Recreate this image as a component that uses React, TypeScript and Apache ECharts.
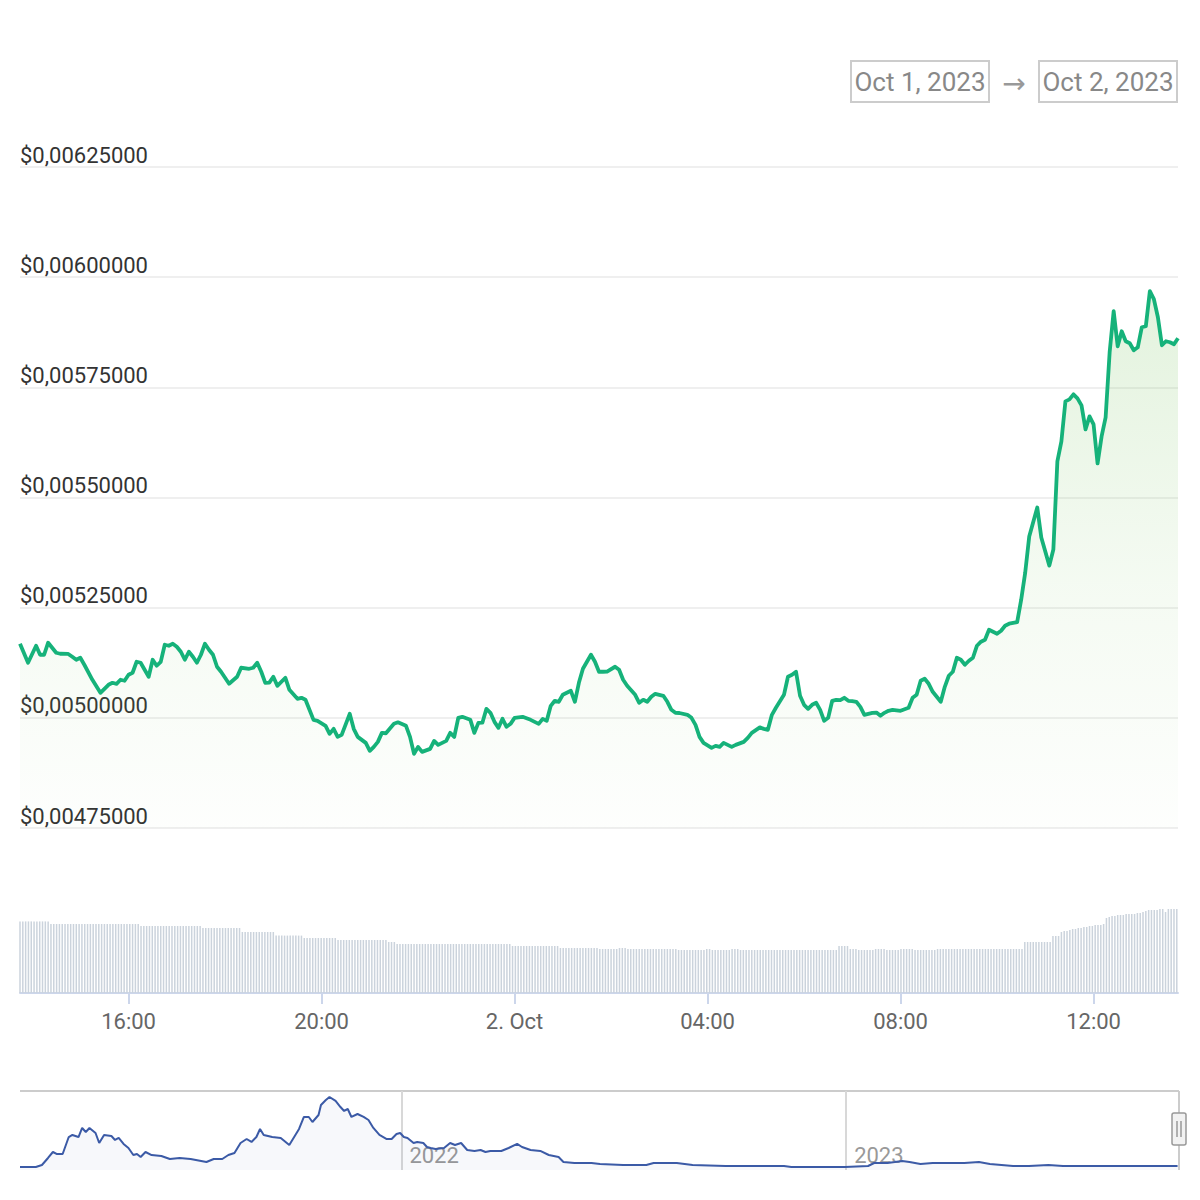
import React, { useEffect, useRef } from 'react';
import * as echarts from 'echarts';

// ---------- DATA ----------
const priceTimes = [
  '13:45','13:55','14:05','14:10','14:15','14:20','14:30','14:35','14:45','14:50','14:55','15:00','15:05','15:15','15:25','15:35','15:40','15:45','15:50','15:55',
  '16:00','16:05','16:10','16:15','16:20','16:25','16:30','16:35','16:40','16:45','16:50','16:55','17:00','17:05','17:10','17:15','17:20','17:25','17:30','17:35',
  '17:40','17:45','17:50','17:55','18:00','18:05','18:15','18:20','18:30','18:35','18:40','18:45','18:50','18:55','19:00','19:05','19:15','19:20','19:30','19:35',
  '19:40','19:50','19:55','20:05','20:10','20:15','20:20','20:25','20:35','20:40','20:45','20:55','21:00','21:05','21:10','21:15','21:20','21:30','21:35','21:45',
  '21:50','21:55','22:00','22:05','22:15','22:20','22:25','22:35','22:40','22:45','22:50','22:55','23:05','23:10','23:15','23:20','23:25','23:30','23:35','23:40',
  '23:45','23:50','23:55','00:00','00:10','00:20','00:25','00:30','00:35','00:40','00:45','00:50','00:55','01:00','01:10','01:15','01:20','01:25','01:35','01:40',
  '01:45','01:50','01:55','02:05','02:10','02:15','02:20','02:30','02:35','02:40','02:45','02:50','02:55','03:05','03:10','03:15','03:20','03:25','03:35','03:40',
  '03:45','03:50','03:55','04:05','04:10','04:15','04:20','04:25','04:30','04:35','04:45','04:50','04:55','05:05','05:10','05:15','05:20','05:25','05:35','05:40',
  '05:45','05:50','05:55','06:00','06:05','06:10','06:15','06:20','06:25','06:30','06:35','06:40','06:45','06:50','06:55','07:00','07:05','07:10','07:15','07:20',
  '07:25','07:30','07:35','07:40','07:45','07:50','07:55','08:00','08:10','08:15','08:20','08:25','08:30','08:35','08:40','08:50','08:55','09:00','09:05','09:10',
  '09:15','09:20','09:25','09:30','09:35','09:40','09:45','09:50','10:00','10:05','10:10','10:15','10:25','10:30','10:35','10:40','10:50','10:55','11:05','11:10',
  '11:15','11:20','11:25','11:30','11:35','11:40','11:45','11:50','11:55','12:00','12:05','12:10','12:15','12:20','12:25','12:30','12:35','12:40','12:45','12:50',
  '12:55','13:00','13:05','13:10','13:15','13:20','13:25','13:30','13:35','13:40','13:45',
];

const priceValues = [
  0.00516818,0.005125,0.00516364,0.00514318,0.00514318,0.00517045,0.00514773,0.00514545,0.005145,0.00513864,0.00513182,0.00513636,0.00512045,0.00508636,0.00505682,0.005075,0.00507955,0.00507727,0.00508636,0.00508409,
  0.00509773,0.00510227,0.00512727,0.005125,0.00510909,0.00509318,0.00513182,0.00511818,0.005127,0.00516591,0.00516364,0.00516818,0.00516136,0.00515,0.00513182,0.00515,0.00513864,0.005125,0.00514318,0.00516818,
  0.00515455,0.00514318,0.00511591,0.00510455,0.00509091,0.00507727,0.00509318,0.00511364,0.00511136,0.00511364,0.005125,0.00510455,0.00507955,0.00508,0.00509318,0.00507273,0.00509091,0.00506364,0.00504318,0.00504545,
  0.00504091,0.00499545,0.00499318,0.00498182,0.00496364,0.004975,0.00495682,0.00496136,0.00500909,0.004975,0.00495682,0.00494318,0.004925,0.00493409,0.00494545,0.00496591,0.004965,0.00498636,0.00498977,0.00498182,
  0.00495682,0.00491818,0.00493409,0.00492273,0.00492955,0.00494773,0.00493864,0.00494773,0.00496591,0.00495682,0.005,0.00500227,0.00499545,0.00496591,0.00498864,0.004989,0.00502045,0.00501136,0.00499091,0.00497727,
  0.00499773,0.00497955,0.00498636,0.005,0.00500227,0.00499545,0.00499091,0.00498636,0.00499773,0.00499318,0.00502727,0.00503864,0.00503636,0.00505227,0.00506136,0.00503636,0.00507955,0.00511136,0.00514318,0.00512727,
  0.00510455,0.00510455,0.005105,0.00511591,0.00510909,0.00508636,0.00507273,0.00505227,0.00503409,0.00504091,0.00503636,0.00504773,0.00505455,0.00505,0.00503636,0.00501818,0.00501136,0.005011,0.00500682,0.005,
  0.00498409,0.00495682,0.00494318,0.00493182,0.00493636,0.00493409,0.00494318,0.00493864,0.00493409,0.00493864,0.00494545,0.00495455,0.00496591,0.00497841,0.004975,0.00497273,0.00500682,0.00502273,0.00505227,0.00509318,
  0.00509773,0.00510455,0.00505,0.00502955,0.00502045,0.00502955,0.00503409,0.00501818,0.00499318,0.005,0.00503864,0.00504091,0.00504,0.00504545,0.00503864,0.005038,0.00503636,0.005025,0.00500682,0.00500909,
  0.00501136,0.005012,0.00500455,0.00501136,0.00501591,0.00501818,0.005017,0.00501591,0.00502273,0.00504545,0.00505227,0.00508409,0.00508864,0.00507727,0.00505909,0.00503636,0.00507045,0.00509545,0.00510455,0.00513636,
  0.00513182,0.00512045,0.00512955,0.00513636,0.00516364,0.00517273,0.00517727,0.0052,0.00519091,0.00519773,0.00520909,0.00521364,0.00521705,0.00526818,0.00532955,0.00541136,0.00547727,0.00540909,0.00534545,0.00538182,
  0.00558182,0.00562727,0.00571818,0.00572273,0.00573409,0.005725,0.00570909,0.00565455,0.00568409,0.00566591,0.00557727,0.00563864,0.00568182,0.00582955,0.00592273,0.00584318,0.00587727,0.00585455,0.00585,0.00583409,
  0.00584091,0.00588636,0.00588864,0.00596818,0.00595,0.00590909,0.00584545,0.00585455,0.00585227,0.00584773,0.00586136,
];

// volume bars (millions USD), one bar every 3.5 minutes from 13:45
const volumeStart = '13:45';
const volumeStepMinutes = 3.5;
const volumeValues = [
  3.58,3.58,3.58,3.58,3.58,3.58,3.58,3.58,3.58,3.58,3.58,
  3.45,3.45,3.45,3.45,3.45,3.45,3.45,3.45,3.45,3.45,3.45,3.45,3.45,3.45,3.45,3.45,3.45,3.45,3.45,3.45,3.45,3.45,3.45,3.45,3.45,3.45,3.45,3.45,3.45,3.45,3.45,3.45,
  3.35,3.35,3.35,3.35,3.35,3.35,3.35,3.35,3.35,3.35,3.35,3.35,3.35,3.35,3.35,3.35,3.35,3.35,3.35,3.35,3.35,3.35,
  3.25,3.25,3.25,3.25,3.25,3.25,3.25,3.25,3.25,3.25,3.25,3.25,3.25,3.25,
  3.05,3.05,3.05,3.05,3.05,3.05,3.05,3.05,3.05,3.05,3.05,3.05,
  2.87,2.87,2.87,2.87,2.87,2.87,2.87,2.87,2.87,2.87,
  2.75,2.75,2.75,2.75,2.75,2.75,2.75,2.75,2.75,2.75,2.75,2.75,
  2.65,2.65,2.65,2.65,2.65,2.65,2.65,2.65,2.65,2.65,2.65,2.65,2.65,2.65,2.65,2.65,2.65,2.65,
  2.55,2.55,2.55,
  2.45,2.45,2.45,2.45,2.45,2.45,2.45,2.45,2.45,2.45,2.45,2.45,2.45,2.45,2.45,2.45,2.45,2.45,2.45,2.45,2.45,2.45,2.45,2.45,2.45,2.45,2.45,2.45,2.45,2.45,2.45,2.45,2.45,2.45,2.45,2.45,2.45,2.45,2.45,2.45,2.45,
  2.35,2.35,2.35,2.35,2.35,2.35,2.35,2.35,2.35,2.35,2.35,2.35,2.35,2.35,2.35,2.35,2.35,
  2.25,2.25,2.25,2.25,2.25,2.25,2.25,2.25,2.25,2.25,2.25,2.25,2.25,2.25,
  2.2,2.2,2.2,2.2,2.2,2.2,2.2,2.25,2.25,2.25,2.2,2.2,2.2,2.2,2.2,2.2,2.2,2.2,2.2,2.2,2.2,2.2,2.2,2.2,2.2,2.2,2.2,2.2,
  2.15,2.15,2.15,2.15,2.15,2.15,2.15,2.15,2.15,2.15,2.2,2.2,2.15,2.15,2.15,2.15,2.15,2.15,2.15,2.2,2.2,2.2,2.15,2.15,2.15,2.15,2.15,2.15,2.15,2.15,
  2.15,2.15,2.15,2.15,2.15,2.15,2.15,2.15,2.15,2.15,2.15,2.15,2.15,2.15,2.15,2.15,2.15,2.15,2.15,2.15,2.15,2.15,2.15,2.15,2.15,2.15,2.15,
  2.35,2.35,2.35,2.35,
  2.2,2.2,2.2,2.15,2.15,2.15,2.15,2.15,2.15,2.2,2.2,2.2,2.2,2.15,2.15,2.15,2.15,2.15,2.2,2.2,2.2,2.2,2.2,2.15,2.15,2.15,2.15,2.15,2.15,2.15,2.15,
  2.2,2.2,2.2,2.2,2.2,2.2,2.2,2.2,2.2,2.2,2.2,2.2,2.2,2.2,2.2,2.2,2.2,2.2,2.2,2.2,2.2,2.2,2.2,2.2,2.2,2.2,2.2,2.2,2.2,2.2,2.2,
  2.55,2.55,2.55,2.55,2.55,2.55,2.55,2.55,2.55,2.55,
  2.85,2.85,2.85,
  3.05,3.1,3.1,3.15,3.2,3.2,3.25,3.25,3.3,3.3,3.35,3.35,3.4,3.4,3.4,3.45,
  3.75,3.8,3.85,3.85,3.9,3.9,3.9,3.95,3.95,3.95,3.95,4.0,4.0,4.05,
  4.1,4.15,4.15,4.15,4.15,4.2,4.2,4.05,4.2,4.2,4.2,4.2,
];

// navigator (long-term history)
const navDates = [
  '2021-02-22','2021-03-07','2021-03-12','2021-03-17','2021-03-21','2021-03-24','2021-03-29','2021-04-03','2021-04-06','2021-04-11',
  '2021-04-14','2021-04-17','2021-04-20','2021-04-25','2021-04-28','2021-05-02','2021-05-08','2021-05-11','2021-05-14','2021-05-18',
  '2021-05-22','2021-05-26','2021-05-29','2021-06-01','2021-06-05','2021-06-10','2021-06-18','2021-06-25','2021-07-03','2021-07-12',
  '2021-07-25','2021-07-31','2021-08-07','2021-08-12','2021-08-17','2021-08-22','2021-08-27','2021-08-31','2021-09-04','2021-09-07',
  '2021-09-10','2021-09-17','2021-09-24','2021-10-01','2021-10-06','2021-10-09','2021-10-13','2021-10-17','2021-10-20','2021-10-25',
  '2021-10-27','2021-10-31','2021-11-03','2021-11-08','2021-11-12','2021-11-15','2021-11-18','2021-11-21','2021-11-26','2021-12-01',
  '2021-12-05','2021-12-09','2021-12-14','2021-12-20','2021-12-24','2021-12-28','2021-12-31','2022-01-03','2022-01-06','2022-01-11',
  '2022-01-14','2022-01-19','2022-01-22','2022-01-25','2022-01-29','2022-02-05','2022-02-10','2022-02-14','2022-02-19','2022-02-24',
  '2022-03-02','2022-03-07','2022-03-11','2022-03-15','2022-03-24','2022-03-30','2022-04-06','2022-04-10','2022-04-17','2022-04-25',
  '2022-05-02','2022-05-10','2022-05-14','2022-05-23','2022-05-29','2022-06-06','2022-06-13','2022-07-02','2022-07-21','2022-07-27',
  '2022-08-10','2022-08-15','2022-08-28','2022-09-24','2022-11-11','2022-11-17','2022-12-31','2023-01-19','2023-01-24','2023-02-04',
  '2023-02-10','2023-02-16','2023-02-22','2023-03-03','2023-03-13','2023-04-08','2023-04-20','2023-04-29','2023-05-18','2023-05-31',
  '2023-06-16','2023-06-28','2023-07-27','2023-08-27','2023-09-30',
];
const navValues = [
  0.0044,0.0044,0.0073,0.0175,0.0262,0.0233,0.0233,0.048,0.051,0.048,
  0.0612,0.0553,0.0612,0.0539,0.0393,0.051,0.0495,0.0437,0.0466,0.0379,
  0.032,0.0218,0.0233,0.0189,0.0262,0.0218,0.0204,0.016,0.0175,0.016,
  0.0116,0.016,0.016,0.0218,0.0248,0.0393,0.0451,0.0408,0.048,0.0597,
  0.051,0.048,0.0466,0.0364,0.051,0.0597,0.0772,0.0772,0.0699,0.0801,
  0.0946,0.1019,0.1063,0.1005,0.0917,0.0859,0.0888,0.0772,0.0815,0.0772,
  0.0728,0.0612,0.051,0.0451,0.0451,0.0524,0.0539,0.048,0.0466,0.0393,
  0.0408,0.0393,0.0335,0.032,0.0306,0.032,0.0393,0.0364,0.0393,0.0291,
  0.0277,0.0291,0.0262,0.0277,0.0277,0.032,0.0379,0.0335,0.0291,0.0277,
  0.0218,0.0189,0.0116,0.0102,0.0102,0.0102,0.0087,0.0073,0.0073,0.0102,
  0.0102,0.0102,0.0073,0.0058,0.0058,0.0044,0.0044,0.0058,0.0102,0.0102,
  0.0116,0.0131,0.0116,0.0087,0.0102,0.0102,0.0116,0.0087,0.0058,0.0058,
  0.0073,0.0058,0.0058,0.0058,0.0058,
];

const timeTickMinutes = [960, 1200, 1440, 1680, 1920, 2160];
const timeTickLabels = ['16:00', '20:00', '2. Oct', '04:00', '08:00', '12:00'];
const navStart = '2021-02-22';
const navEnd = '2023-10-02';
const navYearTicks = ['2022-01-01', '2023-01-01'];
const navYearLabels = ['2022', '2023'];
const rangeFrom = 'Oct 1, 2023';
const rangeTo = 'Oct 2, 2023';
const priceMin = 0.00475;
const priceMax = 0.00625;
const priceStep = 0.00025;

// ---------- helpers ----------
function hm(t: string) {
  const [h, m] = t.split(':').map(Number);
  return h * 60 + m;
}
function toMinutes(times: string[]) {
  let offset = 0;
  let prev = -Infinity;
  return times.map((t) => {
    let v = hm(t) + offset;
    if (v < prev) {
      offset += 1440;
      v += 1440;
    }
    prev = v;
    return v;
  });
}
function dayIndex(d: string) {
  const [y, m, dd] = d.split('-').map(Number);
  const [y0, m0, d0] = navStart.split('-').map(Number);
  return Math.round((Date.UTC(y, m - 1, dd) - Date.UTC(y0, m0 - 1, d0)) / 86400000);
}

export default function App() {
  const ref = useRef<HTMLDivElement>(null);

  useEffect(() => {
    if (!ref.current) return;
    const chart = echarts.init(ref.current, undefined, { renderer: 'svg' });

    const priceX = toMinutes(priceTimes);
    const priceData = priceX.map((x, i) => [x, priceValues[i]]);
    const xMin = priceX[0];
    const xMax = priceX[priceX.length - 1];
    const v0 = hm(volumeStart);
    const volData = volumeValues.map((v, i) => [v0 + i * volumeStepMinutes, v]);
    const navData = navDates.map((d, i) => [dayIndex(d), navValues[i]]);
    const navMax = dayIndex(navEnd);
    const navTickDays = navYearTicks.map(dayIndex);

    const font = 'Roboto';
    const option: any = {
      animation: false,
      backgroundColor: '#ffffff',
      textStyle: { fontFamily: font },
      grid: [
        { left: 20, right: 22, top: 167, height: 661 },
        { left: 20, right: 22, top: 893, height: 100 },
        { left: 20, right: 20, top: 1091, height: 79 },
      ],
      xAxis: [
        { gridIndex: 0, type: 'value', min: xMin, max: xMax, show: false },
        {
          gridIndex: 1,
          type: 'value',
          min: xMin,
          max: xMax,
          axisLine: { show: true, lineStyle: { color: '#ccd6eb', width: 2 } },
          axisTick: { show: true, customValues: timeTickMinutes, length: 11, lineStyle: { color: '#ccd6eb', width: 2 } },
          axisLabel: {
            customValues: timeTickMinutes,
            formatter: (v: number) => timeTickLabels[timeTickMinutes.indexOf(v)] ?? '',
            color: '#666666',
            fontSize: 22,
            fontFamily: font,
            margin: 17,
          },
          splitLine: { show: false },
        },
        {
          gridIndex: 2,
          type: 'value',
          min: 0,
          max: navMax,
          axisLine: { show: false },
          axisTick: { show: false, customValues: navTickDays },
          axisLabel: {
            customValues: navTickDays,
            inside: true,
            formatter: (v: number) => navYearLabels[navTickDays.indexOf(v)] ?? '',
            color: '#999999',
            fontSize: 22,
            fontFamily: font,
            align: 'left',
            padding: [0, 0, 0, 8],
            margin: 4,
          },
          splitLine: { show: true, lineStyle: { color: '#d8d8d8', width: 2 } },
        },
      ],
      yAxis: [
        {
          gridIndex: 0,
          type: 'value',
          min: priceMin,
          max: priceMax,
          interval: priceStep,
          axisLine: { show: false },
          axisTick: { show: false },
          axisLabel: {
            inside: true,
            margin: 0,
            align: 'left',
            verticalAlign: 'bottom',
            padding: [0, 0, 1, 0],
            formatter: (v: number) => '$' + v.toFixed(8).replace('.', ','),
            color: '#333333',
            fontSize: 22,
            fontFamily: font,
          },
          splitLine: { show: true, lineStyle: { color: '#efefef', width: 2 } },
        },
        { gridIndex: 1, type: 'value', min: 0, max: 5, show: false },
        { gridIndex: 2, type: 'value', min: 0, max: 0.115, show: false },
      ],
      series: [
        {
          type: 'bar',
          xAxisIndex: 1,
          yAxisIndex: 1,
          data: volData,
          barWidth: 1.5,
          itemStyle: { color: '#cbd3dc' },
          silent: true,
        },
        {
          type: 'line',
          xAxisIndex: 0,
          yAxisIndex: 0,
          data: priceData,
          symbol: 'none',
          showSymbol: false,
          lineStyle: { color: '#16b27a', width: 3.8, join: 'round' },
          areaStyle: {
            origin: 'start',
            color: new echarts.graphic.LinearGradient(0, 0, 0, 1, [
              { offset: 0, color: 'rgba(130,200,105,0.32)' },
              { offset: 0.55, color: 'rgba(130,200,105,0.12)' },
              { offset: 1, color: 'rgba(130,200,105,0.02)' },
            ]),
          },
          z: 3,
        },
        {
          type: 'line',
          xAxisIndex: 2,
          yAxisIndex: 2,
          data: navData,
          symbol: 'none',
          showSymbol: false,
          lineStyle: { color: '#3b5aa6', width: 2 },
          areaStyle: { origin: 'start', color: 'rgba(67,99,168,0.06)' },
        },
      ],
      graphic: [
        { type: 'rect', shape: { x: 851, y: 61, width: 138, height: 41 }, style: { fill: '#fff', stroke: '#cccccc', lineWidth: 2 } },
        { type: 'text', x: 920, y: 82, style: { text: rangeFrom, fill: '#888888', font: `26px ${font}`, align: 'center', verticalAlign: 'middle' } },
        { type: 'text', x: 1014, y: 83, style: { text: '→', fill: '#999999', font: `28px "DejaVu Sans"`, align: 'center', verticalAlign: 'middle' } },
        { type: 'rect', shape: { x: 1039, y: 61, width: 138, height: 41 }, style: { fill: '#fff', stroke: '#cccccc', lineWidth: 2 } },
        { type: 'text', x: 1108, y: 82, style: { text: rangeTo, fill: '#888888', font: `26px ${font}`, align: 'center', verticalAlign: 'middle' } },
        { type: 'line', shape: { x1: 20, y1: 1091, x2: 1179, y2: 1091 }, style: { stroke: '#cccccc', lineWidth: 2 } },
        { type: 'line', shape: { x1: 1179, y1: 1091, x2: 1179, y2: 1170 }, style: { stroke: '#cccccc', lineWidth: 2 } },
        { type: 'rect', shape: { x: 1172, y: 1113, width: 14, height: 32, r: 2 }, style: { fill: '#f2f2f2', stroke: '#999999', lineWidth: 1.5 }, z: 10 },
        { type: 'line', shape: { x1: 1177, y1: 1121, x2: 1177, y2: 1137 }, style: { stroke: '#999999', lineWidth: 1.5 }, z: 11 },
        { type: 'line', shape: { x1: 1181, y1: 1121, x2: 1181, y2: 1137 }, style: { stroke: '#999999', lineWidth: 1.5 }, z: 11 },
      ],
    };

    chart.setOption(option);
    return () => chart.dispose();
  }, []);

  return (
    <div
      ref={ref}
      style={{ position: 'absolute', left: 0, top: 0, width: 1200, height: 1200, background: '#fff' }}
    />
  );
}
